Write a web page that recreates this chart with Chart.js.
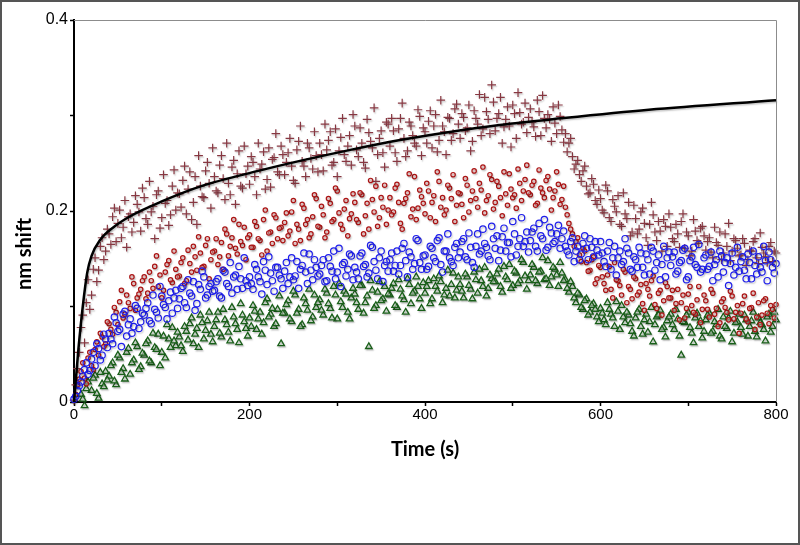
<!DOCTYPE html>
<html>
<head>
	<title>nm shift vs time</title>
	<script src="https://cdn.jsdelivr.net/npm/chart.js@4/dist/chart.umd.min.js"></script>
	<style>
		body { margin: 0; background: #fff; }
		#wrap { width: 800px; height: 545px; }
	</style>
</head>
<body>
	<div id="wrap">
		<canvas id="chart" width="800" height="545"></canvas>
	</div>

	<script type="text/javascript">

		// time (s) of each sample, first pass
		var times = [
			0, 4, 8, 12, 16, 20, 24, 28, 32, 36,
			40, 44, 48, 52, 56, 60, 64, 68, 72, 76,
			80, 84, 88, 92, 96, 100, 104, 108, 112, 116,
			120, 124, 128, 132, 136, 140, 144, 148, 152, 156,
			160, 164, 168, 172, 176, 180, 184, 188, 192, 196,
			200, 204, 208, 212, 216, 220, 224, 228, 232, 236,
			240, 244, 248, 252, 256, 260, 264, 268, 272, 276,
			280, 284, 288, 292, 296, 300, 304, 308, 312, 316,
			320, 324, 328, 332, 336, 340, 344, 348, 352, 356,
			360, 364, 368, 372, 376, 380, 384, 388, 392, 396,
			400, 404, 408, 412, 416, 420, 424, 428, 432, 436,
			440, 444, 448, 452, 456, 460, 464, 468, 472, 476,
			480, 484, 488, 492, 496, 500, 504, 508, 512, 516,
			520, 524, 528, 532, 536, 540, 544, 548, 552, 556,
			560, 564, 568, 572, 576, 580, 584, 588, 592, 596,
			600, 604, 608, 612, 616, 620, 624, 628, 632, 636,
			640, 644, 648, 652, 656, 660, 664, 668, 672, 676,
			680, 684, 688, 692, 696, 700, 704, 708, 712, 716,
			720, 724, 728, 732, 736, 740, 744, 748, 752, 756,
			760, 764, 768, 772, 776, 780, 784, 788, 792, 796,
			800
		];

		// time (s) of each sample, second pass (in between)
		var times2 = [
			2, 6, 10, 14, 18, 22, 26, 30, 34, 38,
			42, 46, 50, 54, 58, 62, 66, 70, 74, 78,
			82, 86, 90, 94, 98, 102, 106, 110, 114, 118,
			122, 126, 130, 134, 138, 142, 146, 150, 154, 158,
			162, 166, 170, 174, 178, 182, 186, 190, 194, 198,
			202, 206, 210, 214, 218, 222, 226, 230, 234, 238,
			242, 246, 250, 254, 258, 262, 266, 270, 274, 278,
			282, 286, 290, 294, 298, 302, 306, 310, 314, 318,
			322, 326, 330, 334, 338, 342, 346, 350, 354, 358,
			362, 366, 370, 374, 378, 382, 386, 390, 394, 398,
			402, 406, 410, 414, 418, 422, 426, 430, 434, 438,
			442, 446, 450, 454, 458, 462, 466, 470, 474, 478,
			482, 486, 490, 494, 498, 502, 506, 510, 514, 518,
			522, 526, 530, 534, 538, 542, 546, 550, 554, 558,
			562, 566, 570, 574, 578, 582, 586, 590, 594, 598,
			602, 606, 610, 614, 618, 622, 626, 630, 634, 638,
			642, 646, 650, 654, 658, 662, 666, 670, 674, 678,
			682, 686, 690, 694, 698, 702, 706, 710, 714, 718,
			722, 726, 730, 734, 738, 742, 746, 750, 754, 758,
			762, 766, 770, 774, 778, 782, 786, 790, 794, 798
		];

		// brown crosses
		var shiftCross = [
			0.002, 0.035, 0.078, 0.062, 0.128, 0.112, 0.151, 0.138, 0.172, 0.158,
			0.176, 0.194, 0.168, 0.201, 0.183, 0.162, 0.197, 0.188, 0.207, 0.179,
			0.214, 0.186, 0.199, 0.171, 0.221, 0.193, 0.208, 0.185, 0.226, 0.201,
			0.218, 0.232, 0.197, 0.241, 0.209, 0.186, 0.226, 0.214, 0.251, 0.203,
			0.236, 0.219, 0.258, 0.212, 0.229, 0.246, 0.207, 0.263, 0.224, 0.239,
			0.228, 0.251, 0.217, 0.244, 0.262, 0.233, 0.225, 0.256, 0.241, 0.268,
			0.238, 0.261, 0.247, 0.229, 0.273, 0.252, 0.236, 0.266, 0.244, 0.258,
			0.271, 0.242, 0.264, 0.283, 0.251, 0.236, 0.277, 0.259, 0.268, 0.248,
			0.289, 0.257, 0.271, 0.245, 0.282, 0.266, 0.231, 0.276, 0.261, 0.293,
			0.268, 0.284, 0.252, 0.297, 0.276, 0.263, 0.289, 0.271, 0.306, 0.258,
			0.283, 0.294, 0.266, 0.301, 0.274, 0.289, 0.259, 0.297, 0.281, 0.312,
			0.276, 0.298, 0.287, 0.263, 0.305, 0.291, 0.279, 0.319, 0.296, 0.332,
			0.284, 0.302, 0.271, 0.296, 0.289, 0.311, 0.276, 0.303, 0.293, 0.282,
			0.307, 0.288, 0.316, 0.279, 0.297, 0.301, 0.273, 0.292, 0.311, 0.285,
			0.281, 0.271, 0.257, 0.249, 0.238, 0.242, 0.226, 0.219, 0.228, 0.207,
			0.213, 0.198, 0.221, 0.189, 0.205, 0.216, 0.184, 0.197, 0.209, 0.178,
			0.192, 0.181, 0.203, 0.172, 0.186, 0.196, 0.169, 0.179, 0.191, 0.163,
			0.183, 0.168, 0.176, 0.189, 0.161, 0.174, 0.158, 0.179, 0.166, 0.184,
			0.159, 0.172, 0.151, 0.167, 0.178, 0.156, 0.163, 0.148, 0.171, 0.161,
			0.154, 0.166, 0.149, 0.158, 0.171, 0.145, 0.162, 0.152, 0.163, 0.147,
			0.156
		];
		var shiftCross2 = [
			0.018, 0.052, 0.091, 0.104, 0.097, 0.139, 0.126, 0.163, 0.149, 0.181,
			0.165, 0.203, 0.187, 0.172, 0.211, 0.194, 0.178, 0.216, 0.199, 0.224,
			0.192, 0.231, 0.205, 0.217, 0.182, 0.238, 0.211, 0.196, 0.243, 0.219,
			0.204, 0.247, 0.223, 0.191, 0.236, 0.258, 0.215, 0.242, 0.229, 0.266,
			0.221, 0.248, 0.234, 0.271, 0.217, 0.253, 0.239, 0.226, 0.268, 0.247,
			0.257, 0.236, 0.271, 0.249, 0.223, 0.266, 0.254, 0.281, 0.238, 0.259,
			0.251, 0.276, 0.232, 0.264, 0.289, 0.247, 0.271, 0.255, 0.283, 0.241,
			0.259, 0.291, 0.274, 0.248, 0.286, 0.263, 0.297, 0.252, 0.279, 0.301,
			0.264, 0.287, 0.251, 0.296, 0.273, 0.308, 0.259, 0.284, 0.246, 0.291,
			0.297, 0.261, 0.286, 0.313, 0.257, 0.293, 0.279, 0.268, 0.299, 0.287,
			0.271, 0.305, 0.289, 0.262, 0.316, 0.283, 0.298, 0.274, 0.307, 0.291,
			0.302, 0.284, 0.311, 0.273, 0.297, 0.322, 0.286, 0.304, 0.281, 0.314,
			0.297, 0.319, 0.288, 0.309, 0.267, 0.302, 0.324, 0.291, 0.313, 0.298,
			0.293, 0.278, 0.304, 0.321, 0.287, 0.296, 0.309, 0.281, 0.299, 0.272,
			0.262, 0.276, 0.244, 0.253, 0.231, 0.247, 0.218, 0.234, 0.211, 0.222,
			0.201, 0.227, 0.193, 0.212, 0.199, 0.186, 0.219, 0.192, 0.174, 0.206,
			0.176, 0.199, 0.187, 0.164, 0.209, 0.178, 0.189, 0.158, 0.184, 0.197,
			0.171, 0.186, 0.162, 0.197, 0.178, 0.153, 0.191, 0.169, 0.182, 0.174,
			0.168, 0.157, 0.183, 0.164, 0.149, 0.176, 0.187, 0.158, 0.169, 0.153,
			0.171, 0.143, 0.159, 0.168, 0.151, 0.177, 0.156, 0.146, 0.167, 0.158
		];

		// small red circles
		var shiftRed = [
			-0.012, 0.018, 0.032, 0.025, 0.046, 0.038, 0.055, 0.049, 0.068, 0.061,
			0.082, 0.071, 0.094, 0.105, 0.088, 0.112, 0.098, 0.124, 0.109, 0.118,
			0.131, 0.114, 0.127, 0.142, 0.121, 0.109, 0.136, 0.148, 0.125, 0.139,
			0.132, 0.151, 0.127, 0.145, 0.163, 0.138, 0.156, 0.142, 0.171, 0.149,
			0.158, 0.144, 0.167, 0.181, 0.153, 0.172, 0.161, 0.186, 0.164, 0.149,
			0.175, 0.162, 0.184, 0.169, 0.191, 0.158, 0.178, 0.196, 0.171, 0.183,
			0.188, 0.174, 0.199, 0.166, 0.181, 0.207, 0.186, 0.172, 0.194, 0.213,
			0.183, 0.196, 0.178, 0.208, 0.191, 0.221, 0.186, 0.202, 0.174, 0.197,
			0.209, 0.188, 0.217, 0.195, 0.181, 0.212, 0.226, 0.193, 0.204, 0.186,
			0.214, 0.199, 0.228, 0.187, 0.208, 0.219, 0.194, 0.236, 0.203, 0.215,
			0.197, 0.221, 0.209, 0.189, 0.231, 0.214, 0.201, 0.224, 0.238, 0.206,
			0.218, 0.193, 0.227, 0.211, 0.242, 0.204, 0.222, 0.198, 0.216, 0.233,
			0.209, 0.226, 0.195, 0.218, 0.239, 0.214, 0.203, 0.229, 0.221, 0.248,
			0.217, 0.231, 0.208, 0.224, 0.214, 0.236, 0.201, 0.221, 0.228, 0.212,
			0.204, 0.187, 0.176, 0.168, 0.154, 0.161, 0.146, 0.138, 0.152, 0.129,
			0.141, 0.124, 0.133, 0.118, 0.146, 0.127, 0.112, 0.136, 0.121, 0.108,
			0.129, 0.115, 0.103, 0.124, 0.111, 0.132, 0.098, 0.117, 0.106, 0.121,
			0.109, 0.096, 0.118, 0.104, 0.088, 0.113, 0.101, 0.092, 0.121, 0.097,
			0.106, 0.089, 0.114, 0.098, 0.083, 0.108, 0.094, 0.116, 0.087, 0.101,
			0.093, 0.111, 0.084, 0.099, 0.076, 0.104, 0.091, 0.108, 0.082, 0.097,
			0.102
		];
		var shiftRed2 = [
			0.008, 0.024, 0.041, 0.019, 0.052, 0.034, 0.063, 0.072, 0.058, 0.084,
			0.076, 0.099, 0.081, 0.117, 0.092, 0.104, 0.131, 0.096, 0.113, 0.127,
			0.108, 0.136, 0.119, 0.153, 0.133, 0.117, 0.144, 0.128, 0.158, 0.131,
			0.146, 0.124, 0.159, 0.136, 0.152, 0.173, 0.141, 0.164, 0.129, 0.157,
			0.171, 0.152, 0.139, 0.176, 0.163, 0.191, 0.155, 0.168, 0.183, 0.172,
			0.162, 0.189, 0.171, 0.154, 0.201, 0.177, 0.166, 0.193, 0.182, 0.169,
			0.198, 0.179, 0.211, 0.186, 0.169, 0.203, 0.191, 0.176, 0.217, 0.184,
			0.205, 0.172, 0.213, 0.189, 0.224, 0.198, 0.181, 0.211, 0.192, 0.218,
			0.191, 0.219, 0.176, 0.208, 0.232, 0.199, 0.184, 0.214, 0.227, 0.201,
			0.196, 0.224, 0.209, 0.181, 0.213, 0.239, 0.202, 0.191, 0.222, 0.208,
			0.229, 0.193, 0.216, 0.241, 0.204, 0.196, 0.227, 0.213, 0.189, 0.219,
			0.207, 0.234, 0.199, 0.221, 0.213, 0.229, 0.246, 0.211, 0.238, 0.202,
			0.231, 0.214, 0.241, 0.206, 0.223, 0.217, 0.244, 0.211, 0.233, 0.219,
			0.227, 0.206, 0.243, 0.219, 0.232, 0.223, 0.214, 0.241, 0.207, 0.226,
			0.196, 0.181, 0.163, 0.172, 0.147, 0.158, 0.137, 0.149, 0.124, 0.143,
			0.131, 0.117, 0.142, 0.109, 0.128, 0.122, 0.139, 0.104, 0.118, 0.131,
			0.112, 0.123, 0.096, 0.118, 0.127, 0.102, 0.114, 0.091, 0.125, 0.109,
			0.117, 0.103, 0.086, 0.112, 0.098, 0.121, 0.094, 0.107, 0.083, 0.112,
			0.097, 0.118, 0.092, 0.079, 0.105, 0.099, 0.086, 0.111, 0.094, 0.072,
			0.103, 0.087, 0.098, 0.114, 0.089, 0.081, 0.106, 0.093, 0.101, 0.088
		];

		// blue circles
		var shiftBlue = [
			0.003, 0.012, 0.021, 0.034, 0.029, 0.045, 0.038, 0.056, 0.049, 0.066,
			0.072, 0.061, 0.083, 0.076, 0.092, 0.069, 0.087, 0.079, 0.098, 0.084,
			0.091, 0.104, 0.082, 0.097, 0.088, 0.111, 0.099, 0.106, 0.093, 0.117,
			0.108, 0.121, 0.099, 0.114, 0.126, 0.103, 0.118, 0.131, 0.112, 0.124,
			0.117, 0.129, 0.109, 0.136, 0.121, 0.114, 0.133, 0.142, 0.119, 0.127,
			0.131, 0.118, 0.139, 0.126, 0.147, 0.123, 0.135, 0.116, 0.141, 0.129,
			0.137, 0.124, 0.151, 0.132, 0.119, 0.143, 0.136, 0.155, 0.128, 0.141,
			0.134, 0.149, 0.127, 0.142, 0.158, 0.136, 0.121, 0.146, 0.139, 0.153,
			0.141, 0.129, 0.156, 0.144, 0.135, 0.162, 0.138, 0.151, 0.126, 0.147,
			0.149, 0.137, 0.158, 0.143, 0.166, 0.131, 0.152, 0.145, 0.169, 0.139,
			0.154, 0.142, 0.161, 0.147, 0.172, 0.136, 0.158, 0.151, 0.143, 0.166,
			0.157, 0.171, 0.149, 0.162, 0.141, 0.176, 0.158, 0.166, 0.153, 0.184,
			0.161, 0.148, 0.173, 0.158, 0.167, 0.189, 0.154, 0.171, 0.163, 0.178,
			0.169, 0.182, 0.158, 0.174, 0.191, 0.162, 0.177, 0.168, 0.185, 0.171,
			0.163, 0.154, 0.172, 0.158, 0.149, 0.166, 0.161, 0.171, 0.152, 0.159,
			0.168, 0.147, 0.158, 0.139, 0.163, 0.151, 0.144, 0.171, 0.156, 0.137,
			0.149, 0.162, 0.141, 0.155, 0.134, 0.158, 0.146, 0.128, 0.163, 0.151,
			0.143, 0.157, 0.137, 0.148, 0.161, 0.131, 0.152, 0.144, 0.165, 0.139,
			0.154, 0.142, 0.127, 0.149, 0.158, 0.136, 0.151, 0.145, 0.133, 0.162,
			0.147, 0.138, 0.155, 0.129, 0.143, 0.152, 0.136, 0.148, 0.157, 0.141,
			0.145
		];
		var shiftBlue2 = [
			0.006, 0.017, 0.027, 0.041, 0.033, 0.052, 0.061, 0.044, 0.071, 0.057,
			0.066, 0.089, 0.074, 0.058, 0.095, 0.081, 0.072, 0.101, 0.077, 0.093,
			0.098, 0.085, 0.112, 0.094, 0.121, 0.102, 0.087, 0.115, 0.109, 0.098,
			0.119, 0.104, 0.128, 0.111, 0.096, 0.123, 0.137, 0.109, 0.121, 0.116,
			0.126, 0.111, 0.138, 0.124, 0.146, 0.131, 0.118, 0.129, 0.151, 0.122,
			0.124, 0.144, 0.131, 0.113, 0.138, 0.152, 0.127, 0.141, 0.133, 0.119,
			0.146, 0.131, 0.128, 0.147, 0.139, 0.156, 0.124, 0.138, 0.149, 0.132,
			0.143, 0.126, 0.151, 0.137, 0.129, 0.161, 0.144, 0.132, 0.155, 0.128,
			0.136, 0.153, 0.142, 0.131, 0.164, 0.147, 0.129, 0.158, 0.143, 0.137,
			0.156, 0.143, 0.134, 0.161, 0.148, 0.157, 0.139, 0.171, 0.146, 0.153,
			0.139, 0.163, 0.151, 0.169, 0.144, 0.158, 0.176, 0.147, 0.162, 0.151,
			0.168, 0.152, 0.177, 0.146, 0.163, 0.155, 0.181, 0.162, 0.149, 0.171,
			0.174, 0.159, 0.182, 0.167, 0.152, 0.176, 0.163, 0.193, 0.168, 0.157,
			0.178, 0.163, 0.187, 0.171, 0.159, 0.183, 0.166, 0.176, 0.161, 0.179,
			0.158, 0.168, 0.147, 0.163, 0.155, 0.174, 0.149, 0.162, 0.168, 0.154,
			0.156, 0.142, 0.167, 0.151, 0.133, 0.158, 0.147, 0.161, 0.139, 0.152,
			0.141, 0.156, 0.133, 0.149, 0.162, 0.138, 0.154, 0.144, 0.131, 0.157,
			0.152, 0.134, 0.146, 0.159, 0.128, 0.148, 0.162, 0.141, 0.136, 0.151,
			0.139, 0.157, 0.144, 0.131, 0.153, 0.146, 0.122, 0.156, 0.141, 0.137,
			0.152, 0.129, 0.146, 0.158, 0.134, 0.141, 0.163, 0.127, 0.149, 0.135
		];

		// green triangles
		var shiftGreen = [
			-0.028, -0.012, 0.008, -0.004, 0.021, 0.012, 0.028, 0.004, 0.019, 0.032,
			0.027, 0.041, 0.018, 0.046, 0.035, 0.052, 0.029, 0.044, 0.058, 0.037,
			0.049, 0.064, 0.041, 0.057, 0.071, 0.052, 0.046, 0.066, 0.078, 0.059,
			0.068, 0.053, 0.074, 0.082, 0.061, 0.077, 0.091, 0.066, 0.085, 0.071,
			0.079, 0.094, 0.068, 0.086, 0.073, 0.099, 0.082, 0.062, 0.091, 0.077,
			0.088, 0.101, 0.076, 0.094, 0.083, 0.108, 0.092, 0.079, 0.097, 0.061,
			0.093, 0.106, 0.084, 0.112, 0.097, 0.081, 0.103, 0.118, 0.089, 0.099,
			0.107, 0.091, 0.114, 0.098, 0.121, 0.087, 0.105, 0.116, 0.094, 0.109,
			0.113, 0.097, 0.122, 0.104, 0.058, 0.117, 0.101, 0.126, 0.108, 0.095,
			0.112, 0.124, 0.099, 0.118, 0.107, 0.129, 0.103, 0.116, 0.121, 0.098,
			0.114, 0.127, 0.108, 0.121, 0.132, 0.104, 0.119, 0.111, 0.135, 0.117,
			0.123, 0.109, 0.131, 0.118, 0.136, 0.114, 0.127, 0.141, 0.119, 0.129,
			0.126, 0.139, 0.115, 0.131, 0.144, 0.122, 0.135, 0.127, 0.146, 0.118,
			0.133, 0.141, 0.124, 0.137, 0.128, 0.148, 0.131, 0.139, 0.121, 0.135,
			0.128, 0.115, 0.121, 0.104, 0.112, 0.097, 0.108, 0.094, 0.103, 0.089,
			0.098, 0.086, 0.104, 0.092, 0.079, 0.095, 0.101, 0.083, 0.091, 0.074,
			0.088, 0.097, 0.071, 0.092, 0.084, 0.063, 0.089, 0.096, 0.078, 0.085,
			0.092, 0.076, 0.087, 0.049, 0.083, 0.094, 0.072, 0.088, 0.079, 0.067,
			0.086, 0.093, 0.074, 0.081, 0.069, 0.089, 0.077, 0.095, 0.072, 0.084,
			0.078, 0.091, 0.069, 0.085, 0.074, 0.088, 0.081, 0.064, 0.092, 0.079,
			0.086
		];
		var shiftGreen2 = [
			-0.018, -0.031, 0.003, 0.014, -0.008, 0.025, 0.009, 0.031, 0.016, 0.023,
			0.038, 0.022, 0.049, 0.031, 0.024, 0.056, 0.041, 0.062, 0.034, 0.051,
			0.061, 0.043, 0.072, 0.055, 0.038, 0.069, 0.081, 0.057, 0.064, 0.073,
			0.059, 0.079, 0.065, 0.088, 0.071, 0.057, 0.083, 0.075, 0.094, 0.063,
			0.086, 0.072, 0.097, 0.081, 0.064, 0.089, 0.076, 0.103, 0.084, 0.069,
			0.079, 0.095, 0.087, 0.071, 0.104, 0.089, 0.098, 0.082, 0.111, 0.093,
			0.102, 0.087, 0.116, 0.093, 0.079, 0.109, 0.096, 0.085, 0.112, 0.104,
			0.096, 0.118, 0.103, 0.088, 0.112, 0.124, 0.099, 0.113, 0.087, 0.119,
			0.104, 0.122, 0.093, 0.111, 0.127, 0.098, 0.115, 0.106, 0.121, 0.113,
			0.119, 0.101, 0.128, 0.111, 0.094, 0.123, 0.114, 0.131, 0.108, 0.125,
			0.121, 0.103, 0.129, 0.116, 0.126, 0.112, 0.138, 0.123, 0.109, 0.131,
			0.116, 0.134, 0.122, 0.108, 0.128, 0.139, 0.121, 0.111, 0.133, 0.126,
			0.134, 0.121, 0.142, 0.128, 0.119, 0.137, 0.124, 0.149, 0.132, 0.127,
			0.144, 0.127, 0.136, 0.151, 0.129, 0.122, 0.141, 0.133, 0.146, 0.127,
			0.119, 0.126, 0.109, 0.114, 0.099, 0.106, 0.091, 0.101, 0.097, 0.084,
			0.093, 0.081, 0.097, 0.088, 0.105, 0.076, 0.089, 0.094, 0.082, 0.069,
			0.094, 0.079, 0.086, 0.073, 0.099, 0.081, 0.091, 0.076, 0.068, 0.089,
			0.081, 0.097, 0.069, 0.084, 0.091, 0.078, 0.062, 0.093, 0.085, 0.074,
			0.091, 0.072, 0.084, 0.097, 0.066, 0.079, 0.088, 0.063, 0.083, 0.092,
			0.071, 0.086, 0.079, 0.094, 0.068, 0.083, 0.076, 0.089, 0.073, 0.094
		];

		// black fitted curve
		var fitTimes = [0, 5, 10, 15, 20, 30, 45, 65, 100, 145, 210, 260, 315, 370, 430, 485, 555, 655, 800];
		var fitShift = [0, 0.055, 0.1, 0.135, 0.153, 0.17, 0.183, 0.195, 0.21, 0.226, 0.242, 0.253, 0.264, 0.274, 0.283, 0.29, 0.297, 0.306, 0.316];

		var yLabels = { '0': '0', '0.2': '0.2', '0.4': '0.4' };
		var xLabels = [0, 200, 400, 600, 800];
		var yTitle = 'nm shift';

		function toPoints(xs, ys, xs2, ys2) {
			var pts = xs.map(function(x, i) { return { x: x, y: ys[i] }; });
			if (xs2) {
				xs2.forEach(function(x, i) { pts.push({ x: x, y: ys2[i] }); });
			}
			return pts;
		}

		var frame = {
			id: 'frame',
			beforeDatasetsDraw: function(chart) {
				var ctx = chart.ctx;
				ctx.save();
				ctx.shadowColor = 'rgba(0, 0, 0, 0.22)';
				ctx.shadowOffsetX = 1;
				ctx.shadowOffsetY = 1.5;
				ctx.shadowBlur = 1.5;
			},
			afterDatasetsDraw: function(chart) {
				chart.ctx.restore();
			},
			afterDraw: function(chart) {
				var ctx = chart.ctx;
				var a = chart.chartArea;
				ctx.save();
				ctx.strokeStyle = '#8c8c8c';
				ctx.lineWidth = 1;
				ctx.beginPath();
				ctx.moveTo(a.left, a.top + 0.5);
				ctx.lineTo(a.right + 0.5, a.top + 0.5);
				ctx.lineTo(a.right + 0.5, a.bottom);
				ctx.stroke();
				ctx.strokeStyle = '#555';
				ctx.lineWidth = 2;
				ctx.strokeRect(1, 1, chart.width - 2, chart.height - 2);

				// y axis title sits lower than the axis centre in the original
				ctx.translate(25, 254);
				ctx.rotate(-Math.PI / 2);
				ctx.fillStyle = '#000';
				ctx.font = 'bold 20px Lato';
				ctx.textAlign = 'center';
				ctx.textBaseline = 'middle';
				ctx.fillText(yTitle, 0, 0);
				ctx.restore();
			}
		};

		var config = {
			type: 'scatter',
			data: {
				datasets: [
					{
						type: 'line',
						data: toPoints(fitTimes, fitShift),
						borderColor: '#000',
						borderWidth: 2.5,
						pointRadius: 0,
						cubicInterpolationMode: 'monotone',
						fill: false,
						order: 0
					},
					{
						data: toPoints(times, shiftBlue, times2, shiftBlue2),
						pointStyle: 'circle',
						pointRadius: 3.2,
						borderColor: 'rgb(30, 30, 235)',
						backgroundColor: 'rgba(255, 255, 255, 0)',
						borderWidth: 1.2,
						order: 1
					},
					{
						data: toPoints(times, shiftRed, times2, shiftRed2),
						pointStyle: 'circle',
						pointRadius: 2.2,
						borderColor: 'rgb(170, 20, 20)',
						backgroundColor: 'rgba(255, 200, 200, 0.5)',
						borderWidth: 1.2,
						order: 2
					},
					{
						data: toPoints(times, shiftGreen, times2, shiftGreen2),
						pointStyle: 'triangle',
						pointRadius: 3.8,
						borderColor: 'rgb(25, 95, 25)',
						backgroundColor: 'rgba(220, 235, 220, 0.6)',
						borderWidth: 1.3,
						order: 3
					},
					{
						data: toPoints(times, shiftCross, times2, shiftCross2),
						pointStyle: 'cross',
						pointRadius: 4.3,
						borderColor: 'rgb(135, 55, 65)',
						borderWidth: 1.2,
						order: 4
					}
				]
			},
			options: {
				responsive: false,
				animation: false,
				clip: false,
				layout: { padding: { left: 0, right: 24, top: 20, bottom: 79 } },
				plugins: {
					legend: { display: false },
					tooltip: { enabled: false }
				},
				scales: {
					x: {
						type: 'linear',
						min: 0,
						max: 800,
						afterFit: function(scale) { scale.height = 64; },
						afterBuildTicks: function(scale) {
							scale.ticks = [0, 100, 200, 300, 400, 500, 600, 700, 800].map(function(v) { return { value: v }; });
						},
						ticks: {
							padding: 0,
							color: '#000',
							maxRotation: 0,
							font: { family: 'Liberation Sans', size: 15 },
							callback: function(v) { return xLabels.indexOf(v) >= 0 ? String(v) : ''; }
						},
						grid: { drawOnChartArea: false, drawTicks: true, tickLength: 4, color: '#000', tickWidth: 1.5 },
						border: { display: true, color: '#000', width: 2 },
						title: {
							display: true,
							text: 'Time (s)',
							color: '#000',
							font: { family: 'Lato', size: 20, weight: 'bold' },
							padding: { top: 4, bottom: 4 }
						}
					},
					y: {
						type: 'linear',
						min: 0,
						max: 0.4,
						afterFit: function(scale) { scale.width = 74; },
						afterBuildTicks: function(scale) {
							scale.ticks = [0, 0.1, 0.2, 0.3, 0.4].map(function(v) { return { value: v }; });
						},
						ticks: {
							padding: 2,
							color: '#000',
							font: { family: 'Liberation Sans', size: 16 },
							callback: function(v) { var k = String(Math.round(v * 10) / 10); return yLabels[k] || ''; }
						},
						grid: { drawOnChartArea: false, drawTicks: true, tickLength: 4, color: '#000', tickWidth: 1.5 },
						border: { display: true, color: '#000', width: 2 }
					}
				}
			},
			plugins: [frame]
		};

		var ctx = document.getElementById('chart').getContext('2d');
		var chart = new Chart(ctx, config);

	</script>
</body>
</html>
